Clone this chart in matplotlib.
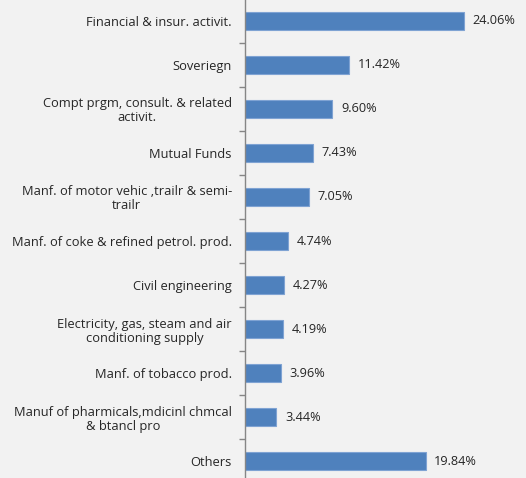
import matplotlib
matplotlib.use("Agg")
import matplotlib.pyplot as plt
from matplotlib.ticker import FixedLocator

sectors = [
    "Financial & insur. activit.",
    "Soveriegn",
    "Compt prgm, consult. & related\nactivit.",
    "Mutual Funds",
    "Manf. of motor vehic ,trailr & semi-\ntrailr",
    "Manf. of coke & refined petrol. prod.",
    "Civil engineering",
    "Electricity, gas, steam and air\nconditioning supply",
    "Manf. of tobacco prod.",
    "Manuf of pharmicals,mdicinl chmcal\n& btancl pro",
    "Others",
]
shares = [24.06, 11.42, 9.60, 7.43, 7.05, 4.74, 4.27, 4.19, 3.96, 3.44, 19.84]
value_labels = ["24.06%", "11.42%", "9.60%", "7.43%", "7.05%", "4.74%",
                "4.27%", "4.19%", "3.96%", "3.44%", "19.84%"]

plt.rcParams["font.family"] = ["Open Sans", "DejaVu Sans"]

W, H = 526, 478
fig = plt.figure(figsize=(W / 100, H / 100), dpi=100, facecolor="#F2F2F2")
ax = fig.add_axes([245 / W, 0, 1 - 245 / W, 1])
ax.set_facecolor("#F2F2F2")

pos = list(range(len(sectors)))
ax.barh(pos, shares, height=0.42, color="#4F81BD", edgecolor="#7FA3D3", linewidth=0.8)

for p, v, lab in zip(pos, shares, value_labels):
    ax.text(v + 0.95, p, lab, va="center", ha="left", fontsize=9.2, color="#262626")

ax.set_yticks(pos)
ax.set_yticklabels(sectors, fontsize=9.3, color="#262626", ha="right",
                   multialignment="center", linespacing=1.1)
ax.yaxis.set_minor_locator(FixedLocator([p + 0.5 for p in pos]))
ax.tick_params(axis="y", which="major", length=0, pad=9.5)
ax.tick_params(axis="y", which="minor", length=4, color="#868686", width=1)

ax.set_xlim(0, 281 / 9.1)
ax.set_ylim(10.386, -0.477)
ax.set_xticks([])
for s in ["top", "right", "bottom"]:
    ax.spines[s].set_visible(False)
ax.spines["left"].set_color("#868686")
ax.spines["left"].set_linewidth(1)

fig.savefig("out.png", dpi=100, facecolor=fig.get_facecolor())
